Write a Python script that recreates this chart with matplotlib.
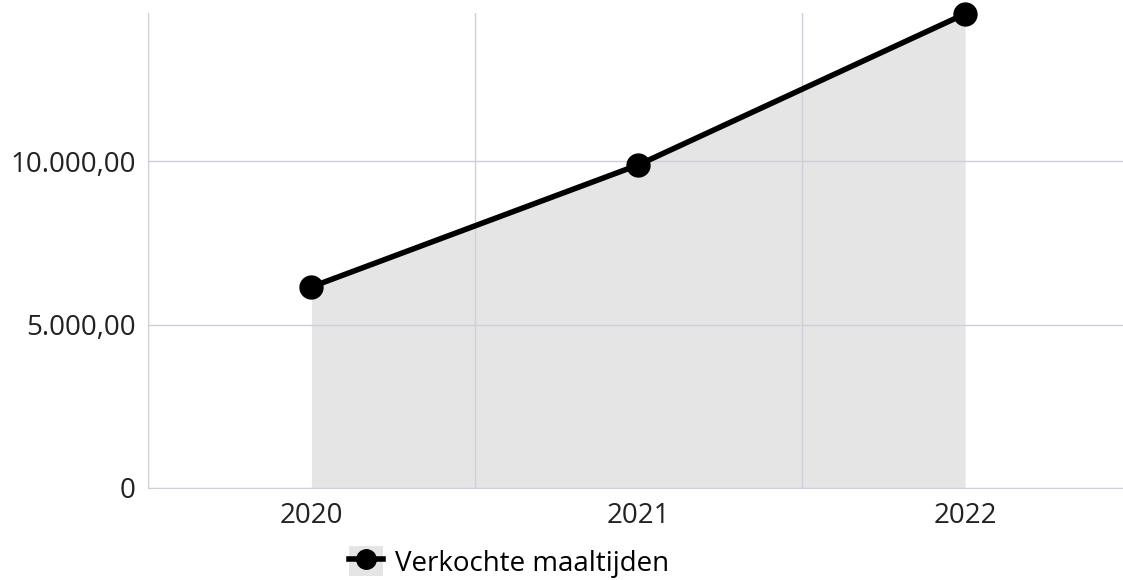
import matplotlib
matplotlib.use('Agg')
import matplotlib.pyplot as plt
import matplotlib.ticker as mticker
from matplotlib.patches import Patch
from matplotlib.lines import Line2D

years = ['2020', '2021', '2022']
meals = [6150, 9880, 14500]
yticks = [0, 5000, 10000]
label = 'Verkochte maaltijden'

plt.rcParams['font.family'] = ['Open Sans', 'DejaVu Sans']

W, H = 1123, 580
fig = plt.figure(figsize=(W / 100, H / 100), dpi=100)
ax = fig.add_axes([148 / W, (H - 488) / H, (1128.5 - 148) / W, (488 - 13) / H])

x = list(range(len(years)))
ax.fill_between(x, meals, 0, color='#e5e5e5', zorder=1, linewidth=0)
ax.plot(x, meals, color='black', lw=4, marker='o', ms=16.5, zorder=3, clip_on=False)

ax.set_xlim(-0.5, len(years) - 0.5)
ax.set_ylim(0, 14526)
ax.set_xticks(x, years)
ax.set_yticks(yticks)


def fmt(v, pos):
    if v == 0:
        return '0'
    s = f'{v:,.2f}'
    return s.replace(',', 'X').replace('.', ',').replace('X', '.')


ax.yaxis.set_major_formatter(mticker.FuncFormatter(fmt))
ax.set_xticks([-0.5, 0.5, 1.5, 2.5], minor=True)
ax.grid(False)
ax.yaxis.grid(True, color='#ccd0da', lw=1, zorder=2)
ax.xaxis.grid(True, which='minor', color='#ccd0da', lw=1, zorder=2)
ax.set_axisbelow(False)
ax.tick_params(which='both', length=0, labelsize=20, colors='#222222', pad=10)
ax.tick_params(axis='y', pad=9)
for s in ['top', 'right']:
    ax.spines[s].set_visible(False)
for s in ['left', 'bottom']:
    ax.spines[s].set_color('#ccd0da')

handle = (Patch(facecolor='#e5e5e5', edgecolor='none'),
          Line2D([], [], color='black', lw=4, marker='o', ms=14))
fig.legend([handle], [label], loc='center', bbox_to_anchor=(509 / W, 1 - 562 / H),
           frameon=False, fontsize=20, handlelength=1.22, handleheight=1.26,
           handletextpad=0.43, borderpad=0)

fig.savefig('out.png', dpi=100)
